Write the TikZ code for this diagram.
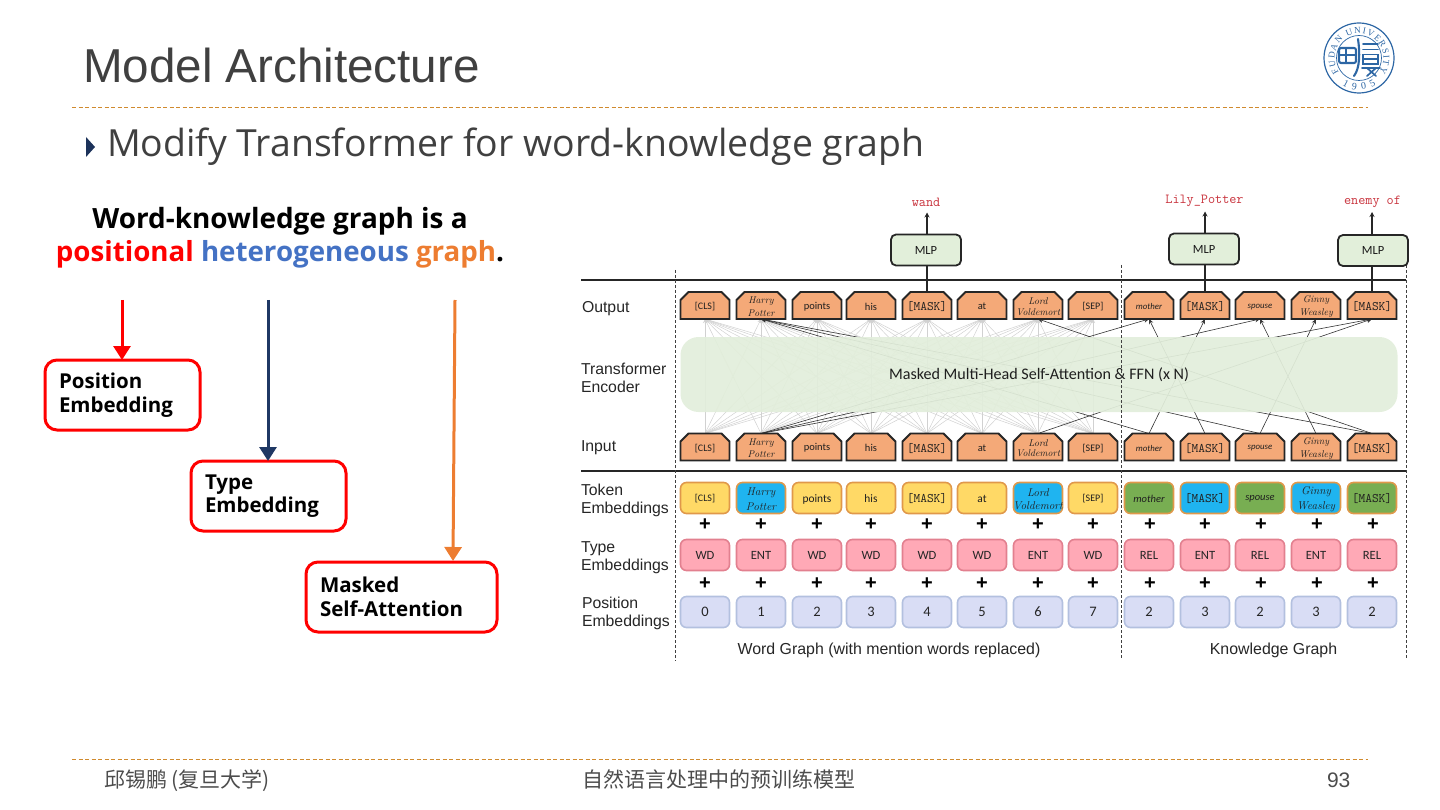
\documentclass[tikz,border=0pt]{standalone}
\usepackage{fontspec}
\usetikzlibrary{arrows.meta,decorations.text}
\newfontfamily\titlef{Liberation Sans}
\newfontfamily\bodyf{Open Sans}
\newfontfamily\carf{Carlito}
\newfontfamily\cjkf{Noto Sans CJK SC}
\newfontfamily\logof{Liberation Serif}
\definecolor{rulec}{HTML}{D08A2E}
\definecolor{titlec}{HTML}{404040}
\definecolor{navy}{HTML}{1F3864}
\definecolor{orgA}{HTML}{ED7D31}
\definecolor{blueH}{HTML}{4472C4}
\definecolor{tokO}{HTML}{F4A978}
\definecolor{mlpG}{HTML}{E2EFDA}
\definecolor{encG}{HTML}{E2EEDB}
\definecolor{tokY}{HTML}{FFD966}
\definecolor{tokB}{HTML}{1FB4F0}
\definecolor{tokG}{HTML}{78AE52}
\definecolor{tokE}{HTML}{E0984A}
\definecolor{typP}{HTML}{FFA9B6}
\definecolor{typE}{HTML}{E2808F}
\definecolor{posB}{HTML}{D9DDF5}
\definecolor{posE}{HTML}{B3C0DF}
\definecolor{redT}{HTML}{C8323C}
\definecolor{logoB}{HTML}{2C66A4}
\pgfdeclarelayer{bg}
\pgfsetlayers{bg,main}
\newcommand\serifit[2]{{\rmfamily\itshape\fontsize{9.8}{11.5}\selectfont\shortstack{#1\\[1pt]#2}}}
\newcommand\serifbig[2]{{\rmfamily\itshape\fontsize{11.3}{13}\selectfont\shortstack{#1\\[2.5pt]#2}}}
\newcommand\tHarry{\serifit{Harry}{Potter}}
\newcommand\tLord{\serifit{Lord}{Voldemort}}
\newcommand\tGinny{\serifit{Ginny}{Weasley}}
\newcommand\bHarry{\serifbig{Harry}{Potter}}
\newcommand\bLord{\serifbig{Lord}{Voldemort}}
\newcommand\bGinny{\serifbig{Ginny}{Weasley}}
\newcommand\tMask{{\ttfamily\fontsize{13}{13}\selectfont [MASK]}}
\newcommand\tMoth{{\carf\itshape\fontsize{8.8}{12}\selectfont mother}}
\newcommand\tSpou{{\carf\itshape\fontsize{8.8}{12}\selectfont spouse}}
\newcommand\bMoth{{\carf\itshape\fontsize{10.5}{12}\selectfont mother}}
\newcommand\bSpou{{\carf\itshape\fontsize{10.5}{12}\selectfont spouse}}
\newcommand\tCls{{\fontsize{10}{12}\selectfont[CLS]}}
\newcommand\tSep{{\fontsize{10}{12}\selectfont[SEP]}}
\tikzset{
  x=1pt,y=-1pt,
  dashrule/.style={draw=rulec,line width=1.2pt,dash pattern=on 4pt off 2.5pt},
  ptext/.style={inner sep=0pt,outer sep=0pt},
  hbar/.style={line width=1.6pt,draw=black!85},
  vdash/.style={line width=.9pt,draw=black!75,dash pattern=on 3pt off 2pt},
  wordpoly/.style={draw=black!85,line width=1.9pt,fill=tokO,line join=miter},
  wordanch/.style={minimum width=49pt,minimum height=27pt,inner sep=0pt,outer sep=0pt},
  wordlab/.style={inner sep=0pt,outer sep=0pt,text=black!88,font=\carf\fontsize{10.5}{12}\selectfont},
  embtok/.style={rounded corners=6pt,line width=1.6pt,minimum width=49pt,minimum height=31pt,
    inner sep=0pt,outer sep=0pt,text=black!85,font=\carf\fontsize{12.6}{13}\selectfont,text height=8pt,text depth=0pt},
  embbox/.style={rounded corners=6pt,line width=1.6pt,minimum width=49pt,minimum height=31pt,inner sep=0pt,outer sep=0pt},
  emblab/.style={inner sep=0pt,outer sep=0pt,text=black!88,font=\carf\fontsize{11.4}{13}\selectfont},
  mlpbox/.style={draw=black!85,line width=1.8pt,fill=mlpG,rounded corners=5pt,minimum width=70pt,
    minimum height=31pt,inner sep=0pt,outer sep=0pt,text=black!90,font=\carf\fontsize{12.5}{14}\selectfont},
  mlparrow/.style={line width=1.8pt,draw=black!85,-{Stealth[length=5pt,width=5pt]}},
  mlpstem/.style={line width=1.8pt,draw=black!85},
  outlabel/.style={inner sep=0pt,text=redT,font=\ttfamily\fontsize{13.8}{14}\selectfont},
  rowlabel/.style={inner sep=0pt,outer sep=0pt,anchor=west,align=left,text=black!85,font=\titlef\fontsize{15.8}{18.5}\selectfont},
  fanedge/.style={line width=.5pt,draw=black!18,-{Stealth[length=4pt,width=4pt]}},
  kgedge/.style={line width=.6pt,draw=black!80,-{Stealth[length=5pt,width=4.5pt]}},
  plusmark/.style={inner sep=0pt,text=black,font=\titlef\bfseries\fontsize{20}{20}\selectfont},
  callout/.style={draw=#1,line width=3pt,fill=white,rounded corners=12pt,inner sep=0pt,outer sep=0pt,
    align=left,font=\bodyf\bfseries\fontsize{20.5}{23.5}\selectfont,text=black,anchor=north west},
  bigarrow/.style={draw=#1,line width=3pt,-{Triangle[length=14pt,width=17pt]}},
  logostroke/.style={draw=logoB,line width=2.1pt,line cap=round}
}
\newcommand\wordnode[4]{% name, x, y, label
  \draw[wordpoly] (#2-24.5,#3+13.5) -- (#2-24.5,#3-5.5) -- (#2-16.5,#3-13.5) -- (#2+16.5,#3-13.5)
    -- (#2+24.5,#3-5.5) -- (#2+24.5,#3+13.5) -- cycle;
  \node[wordanch] (#1) at (#2,#3) {};
  \node[wordlab] (#1t) at (#2,#3+1.2) {#4};
}
\begin{document}
\begin{tikzpicture}
\useasboundingbox (0,0) rectangle (1440,810);

% header
\node[ptext,anchor=base west,text=titlec,font=\titlef\fontsize{47.6}{50}\selectfont] (title) at (83,82.5) {Model Architecture};
\draw[dashrule] (72,107.5) -- (1368,107.5);
\fill[navy!90!black] (86,137) -- (95,147) -- (86,157) -- cycle;
\node[ptext,anchor=base west,text=titlec,font=\bodyf\fontsize{37.4}{40}\selectfont] (subtitle) at (107,157) {Modify Transformer for word-knowledge graph};

% logo
\begin{scope}[shift={(1359,58)},x=1pt,y=1pt]
  \draw[logoB,line width=1.2pt] (0,0) circle (35);
  \draw[logoB,line width=.7pt] (0,0) circle (22.5);
  \path[postaction={decorate},decoration={text along path,text align={fit to path},
    text={|\logof\fontsize{9}{9}\selectfont\color{logoB}|FUDAN UNIVERSITY}}]
    (215:24.5) arc (215:-35:24.5);
  \path[postaction={decorate},decoration={text along path,text align={fit to path},
    text={|\logof\fontsize{10}{10}\selectfont\color{logoB}|1905}}]
    (238:32) arc (238:302:32);
  \draw[logostroke,rounded corners=2pt] (-20,10) rectangle (-3,-5);
  \draw[logostroke] (-20,3) -- (-3,3);
  \draw[logostroke] (-13,10) -- (-13,-5);
  \draw[logostroke] (-1,19) .. controls (1,5) and (1,-10) .. (-5,-18);
  \draw[logostroke,line width=1.7pt] (4,14) -- (19,14);
  \draw[logostroke,line width=1.7pt] (4,8.5) -- (19,8.5);
  \draw[logostroke,line width=1.7pt] (4,3.5) rectangle (19,-6);
  \draw[logostroke,line width=1.7pt] (4,-1.2) -- (19,-1.2);
  \draw[logostroke,line width=1.7pt] (3,-10) -- (21,-10);
  \draw[logostroke,line width=1.7pt] (8,-10) -- (17,-18);
  \draw[logostroke,line width=1.7pt] (17,-10) -- (8,-18);
\end{scope}

% left panel
\node[ptext,anchor=base,text=black,font=\bodyf\bfseries\fontsize{27.9}{28}\selectfont] (head1) at (280,229) {Word-knowledge graph is a};
\node[ptext,anchor=base,font=\bodyf\bfseries\fontsize{27.7}{28}\selectfont] (head2) at (280,261.5)
  {\textcolor{red}{positional} \textcolor{blueH}{heterogeneous} \textcolor{orgA}{graph}\textcolor{black}{.}};

\node[callout=red,minimum width=155pt,minimum height=70pt,text width=127pt] (posbox) at (45,360) {Position\\Embedding};
\node[callout=red,minimum width=155pt,minimum height=70pt,text width=127pt] (typebox) at (191,461) {Type\\Embedding};
\node[callout=red,minimum width=191pt,minimum height=70pt,text width=163pt] (maskbox) at (306,562) {Masked\\Self-Attention};
\coordinate (a1) at (122,300);
\coordinate (a2) at (268,300);
\coordinate (a3) at (455,300);
\coordinate (a3e) at (453,561);
\draw[bigarrow=red] (a1) -- (a1 |- posbox.north);
\draw[bigarrow=navy] (a2) -- (a2 |- typebox.north);
\draw[bigarrow=orgA] (a3) -- (a3e);

% frame of the right figure
\coordinate (hl1) at (581,280);
\coordinate (hr1) at (1406,280);
\coordinate (hl2) at (581,471);
\coordinate (hr2) at (1406,471);
\draw[hbar] (hl1) -- (hr1);
\draw[hbar,line width=2.2pt] (hl2) -- (hr2);
\coordinate (v1a) at (675,270); \coordinate (v1b) at (675,661);
\coordinate (v2a) at (1121,265); \coordinate (v2b) at (1121,658);
\coordinate (v3a) at (1406,265); \coordinate (v3b) at (1406,658);
\draw[vdash] (v1a) -- (v1b);
\draw[vdash] (v2a) -- (v2b);
\draw[vdash] (v3a) -- (v3b);

% row labels
\node[rowlabel] (lOut) at (582,309) {Output};
\node[rowlabel] (lEnc) at (581,378) {Transformer\\Encoder};
\node[rowlabel] (lIn) at (581,448) {Input};
\node[rowlabel] (lTok) at (581,500.5) {Token\\Embeddings};
\node[rowlabel] (lTyp) at (581,557.5) {Type\\Embeddings};
\node[rowlabel] (lPos) at (582,613.5) {Position\\Embeddings};

% output and input tokens
\foreach \idx/\px/\lab in {1/705/\tCls,2/761/\tHarry,3/817/points,4/871/his,5/927/\tMask,6/982/at,7/1038/\tLord,8/1093/\tSep,9/1149/\tMoth,10/1205/\tMask,11/1260/\tSpou,12/1316/\tGinny,13/1372/\tMask}{
  \wordnode{out\idx}{\px}{305.5}{\lab}
  \wordnode{in\idx}{\px}{447}{\lab}
}

% token embeddings
\foreach \idx/\px/\col/\lab in {1/705/tokY/\tCls,2/761/tokB/\bHarry,3/817/tokY/points,4/871/tokY/his,5/927/tokY/\tMask,6/982/tokY/at,7/1038/tokB/\bLord,8/1093/tokY/\tSep,9/1149/tokG/\bMoth,10/1205/tokB/\tMask,11/1260/tokG/\bSpou,12/1316/tokB/\bGinny,13/1372/tokG/\tMask}{
  \node[embbox,draw=tokE,fill=\col] (tok\idx) at (\px,498) {};
  \node[emblab] (tokt\idx) at (\px,499) {\lab};
}
% type embeddings
\foreach \idx/\px/\lab in {1/705/WD,2/761/ENT,3/817/WD,4/871/WD,5/927/WD,6/982/WD,7/1038/ENT,8/1093/WD,9/1149/REL,10/1205/ENT,11/1260/REL,12/1316/ENT,13/1372/REL}{
  \node[embtok,draw=typE,fill=typP] (typ\idx) at (\px,555) {\lab};
}
% position embeddings
\foreach \idx/\px/\lab in {1/705/0,2/761/1,3/817/2,4/871/3,5/927/4,6/982/5,7/1038/6,8/1093/7,9/1149/2,10/1205/3,11/1260/2,12/1316/3,13/1372/2}{
  \node[embtok,draw=posE,fill=posB,font=\carf\fontsize{14.5}{15}\selectfont,text height=9pt] (pos\idx) at (\px,612) {\lab};
}
% plus signs
\foreach \idx/\px in {1/705,2/761,3/817,4/871,5/927,6/982,7/1038,8/1093,9/1150,10/1205,11/1261,12/1317,13/1373}{
  \node[plusmark] (pa\idx) at (\px,525) {+};
  \node[plusmark] (pb\idx) at (\px,584) {+};
}

\node[ptext,text=black!85,font=\titlef\fontsize{15.9}{18}\selectfont] (capW) at (889,650) {Word Graph (with mention words replaced)};
\node[ptext,text=black!85,font=\titlef\fontsize{15.9}{18}\selectfont] (capK) at (1273.5,650) {Knowledge Graph};

% MLPs
\node[mlpbox] (m1) at (926,250) {MLP};
\node[mlpbox] (m2) at (1204,249) {MLP};
\node[mlpbox] (m3) at (1373,250.5) {MLP};
\node[outlabel] (o1) at (926,202) {wand};
\node[outlabel] (o2) at (1204.5,201) {Lily\_Potter};
\node[outlabel] (o3) at (1372.5,202) {enemy of};
\draw[mlpstem] (out5.north) -- (out5.north |- m1.south);
\draw[mlpstem] (out10.north) -- (out10.north |- m2.south);
\draw[mlpstem] (out13.north) -- (out13.north |- m3.south);
\draw[mlparrow] (out5.north |- m1.north) -- ++(0,-22);
\draw[mlparrow] (out10.north |- m2.north) -- ++(0,-22);
\draw[mlparrow] (out13.north |- m3.north) -- ++(0,-23);

% attention edges, below the encoder band
\begin{pgfonlayer}{bg}
  \foreach \ina in {1,...,8}{
    \foreach \inb in {1,...,8}{
      \draw[fanedge] (in\ina.north) -- (out\inb.south);
    }
  }
  \foreach \ina/\inb in {9/2,11/2,13/2,13/7,2/9,2/11,2/13,7/13,10/9,9/10,11/12,12/11}{
    \draw[kgedge] (in\ina.north) -- (out\inb.south);
  }
  \node[fill=encG,fill opacity=.93,text opacity=1,rounded corners=18pt,minimum width=717pt,minimum height=75pt,
    inner sep=0pt,outer sep=0pt,text=black!88,font=\carf\fontsize{16.1}{18}\selectfont] (enc) at (1039,374.5)
    {Masked Multi-Head Self-Attention \& FFN (x N)};
\end{pgfonlayer}

% footer
\draw[dashrule] (72,759.5) -- (1368,759.5);
\node[ptext,anchor=base west,text=black!70,font=\cjkf\fontsize{21}{22}\selectfont] (f1) at (104,787) {邱锡鹏 (复旦大学)};
\node[ptext,anchor=base,text=black!70,font=\cjkf\fontsize{21}{22}\selectfont] (f2) at (719,787) {自然语言处理中的预训练模型};
\node[ptext,anchor=base west,text=black!70,font=\titlef\fontsize{21}{22}\selectfont] (f3) at (1327,787) {93};
\end{tikzpicture}
\end{document}
